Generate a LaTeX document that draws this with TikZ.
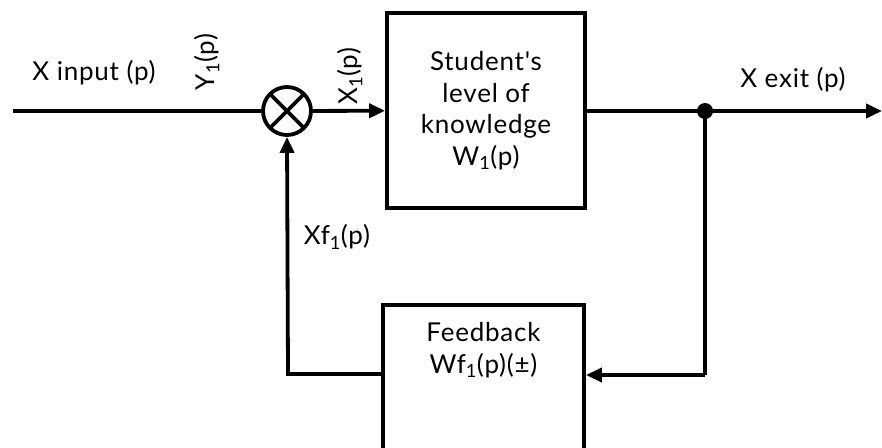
\documentclass[tikz,border=0pt]{standalone}
\usepackage{fontspec}
\setmainfont{Lato}[Ligatures=TeXOff, LetterSpace=3]
\usetikzlibrary{positioning,arrows.meta,calc}
\tikzset{
  wire/.style={line width=3.8pt, draw=black},
  signal/.style={wire, -{Triangle[length=16pt,width=14pt]}},
  block/.style={wire, rectangle, minimum width=198pt, align=center, inner sep=0pt},
  sumnode/.style={wire, circle, minimum size=48pt, inner sep=0pt,
    path picture={\draw[line width=3.8pt] (path picture bounding box.north west) -- (path picture bounding box.south east)
      (path picture bounding box.north east) -- (path picture bounding box.south west);}},
  lbl/.style={font=\fontsize{26}{31.5}\selectfont, inner sep=0pt}
}

\begin{document}
\begin{tikzpicture}[x=1pt, y=-1pt, node distance=20pt]
    \clip (0,0) rectangle (882,447);

    \node[sumnode] (sum) at (287,111) {};
    \node[block, minimum height=195pt, lbl, wire] (plant) at (486,110.5)
      {Student's\\level of\\knowledge\\W\textsubscript{1}(p)};
    \node[block, minimum width=201pt, minimum height=160pt, anchor=north] (fb) at (483.5,303) {};
    \node[lbl, align=center] (fbtext) at (483.5,350) {Feedback\\Wf\textsubscript{1}(p)(±)};

    \coordinate (in) at (13,111);
    \coordinate (out) at (882,111);
    \coordinate (dot) at (705,111);
    \coordinate (back) at (705,375);
    \coordinate (ret) at (288,374);

    \draw[wire] (in) -- (sum);
    \draw[signal] (sum) -- (plant);
    \draw[signal] (plant.east |- dot) -- (out);
    \fill (dot) circle (8pt);
    \draw[wire] (dot) -- (back);
    \draw[signal] (back) -- (back -| fb.east);
    \draw[signal] (ret -| fb.west) -- (ret) -- (sum.south);

    \node[lbl] (xin) at (94,73) {X input (p)};
    \node[lbl, rotate=90] (y1) at (207,62) {Y\textsubscript{1}(p)};
    \node[lbl, rotate=90] (x1) at (350,76) {X\textsubscript{1}(p)};
    \node[lbl] (xout) at (793,80) {X exit (p)};
    \node[lbl] (xf1) at (337,237) {Xf\textsubscript{1}(p)};
\end{tikzpicture}
\end{document}
